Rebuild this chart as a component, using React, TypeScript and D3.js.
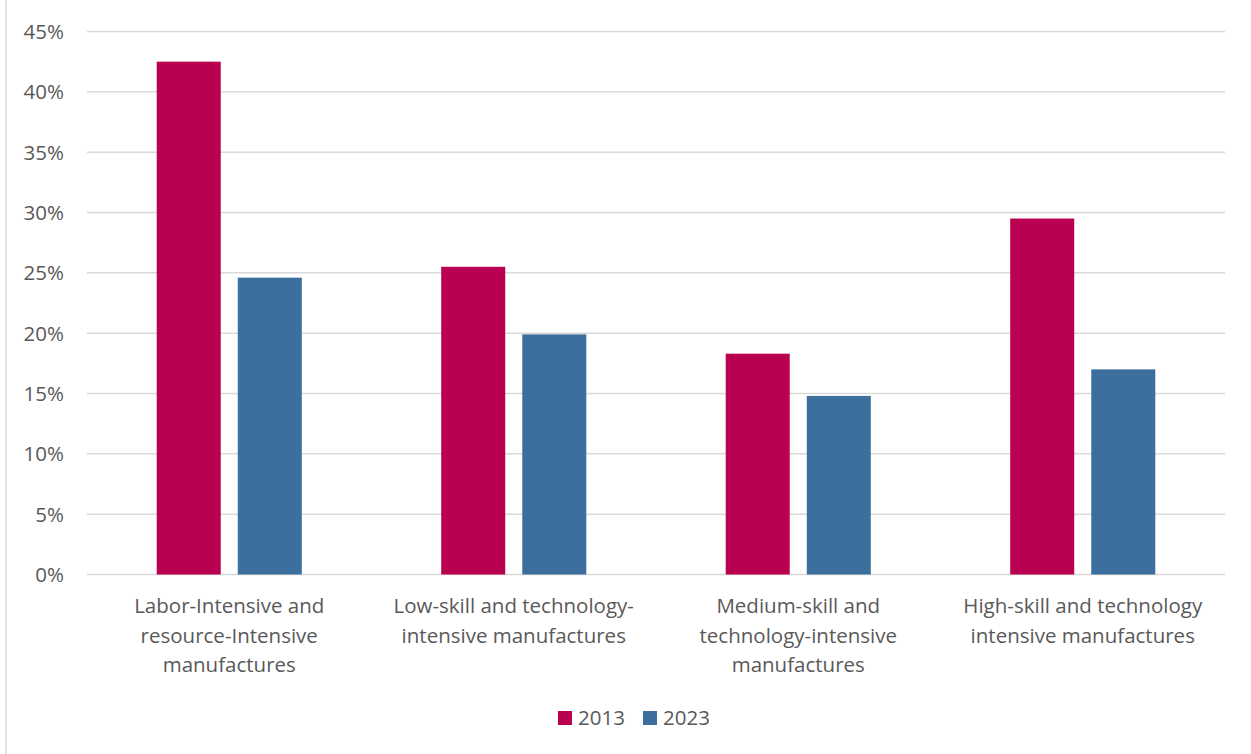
import React from "react";
import * as d3 from "d3";

const categories: string[][] = [
  ["Labor-Intensive and", "resource-Intensive", "manufactures"],
  ["Low-skill and technology-", "intensive manufactures"],
  ["Medium-skill and", "technology-intensive", "manufactures"],
  ["High-skill and technology", "intensive manufactures"],
];
const seriesNames = ["2013", "2023"];
const values2013 = [42.5, 25.5, 18.3, 29.5];
const values2023 = [24.6, 19.9, 14.8, 17.0];
const yTicks = [0, 5, 10, 15, 20, 25, 30, 35, 40, 45];
const colors = ["#BA0050", "#3C6F9D"];

const W = 1251;
const H = 754;
const FONT = "'Open Sans', sans-serif";
const FS = 20.5;

export default function App() {
  const plotLeft = 87;
  const plotRight = 1225;
  const y = d3.scaleLinear().domain([0, 45]).range([574.5, 31.5]);
  const x0 = d3
    .scaleBand<number>()
    .domain(categories.map((_, i) => i))
    .range([plotLeft, plotRight])
    .padding(0);
  const x1 = d3
    .scaleBand<number>()
    .domain([0, 1])
    .range([0, x0.bandwidth()])
    .paddingInner(0.21)
    .paddingOuter(0.86);
  const series = [values2013, values2023];

  return (
    <svg
      width={W}
      height={H}
      style={{ position: "absolute", left: 0, top: 0, background: "#fff" }}
      fontFamily={FONT}
    >
      <rect x={0} y={0} width={W} height={H} fill="#fff" />
      <line x1={6} x2={6} y1={0} y2={H} stroke="#d9d9d9" strokeWidth={1.5} />
      {yTicks.map((t) => (
        <g key={t}>
          <line
            x1={plotLeft}
            x2={plotRight}
            y1={y(t)}
            y2={y(t)}
            stroke="#d9d9d9"
            strokeWidth={1.5}
          />
          <text
            x={64}
            y={y(t)}
            dy="0.36em"
            textAnchor="end"
            fontSize={FS}
            fill="#595959"
          >
            {t}%
          </text>
        </g>
      ))}
      {categories.map((_, ci) =>
        series.map((vals, si) => (
          <rect
            key={`${ci}-${si}`}
            x={(x0(ci) as number) + (x1(si) as number)}
            y={y(vals[ci])}
            width={x1.bandwidth()}
            height={y(0) - y(vals[ci])}
            fill={colors[si]}
          />
        ))
      )}
      {categories.map((lines, ci) => (
        <text
          key={ci}
          x={(x0(ci) as number) + x0.bandwidth() / 2}
          textAnchor="middle"
          fontSize={FS}
          fill="#595959"
        >
          {lines.map((l, li) => (
            <tspan key={li} x={(x0(ci) as number) + x0.bandwidth() / 2} y={613 + li * 29.5}>
              {l}
            </tspan>
          ))}
        </text>
      ))}
      {seriesNames.map((name, si) => {
        const lx = 558 + si * 85;
        return (
          <g key={name}>
            <rect x={lx} y={711} width={14} height={14} fill={colors[si]} />
            <text x={lx + 20} y={725} fontSize={FS} fill="#595959">
              {name}
            </text>
          </g>
        );
      })}
    </svg>
  );
}
